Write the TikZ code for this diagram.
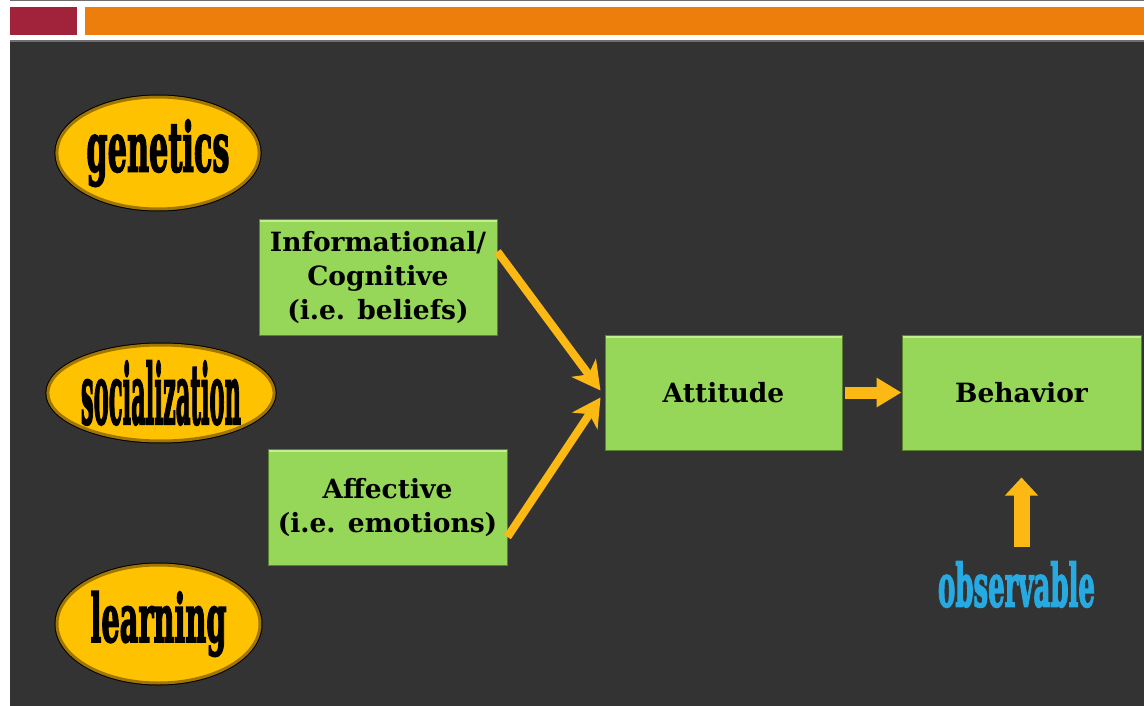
\documentclass[tikz,border=0pt]{standalone}
\usepackage{fontspec}
\usepackage{graphicx}
\usetikzlibrary{arrows.meta,calc,shapes.geometric}
\newfontfamily\boxfont{DejaVu Serif}
\newfontfamily\elfont{DejaVu Serif}[BoldFeatures={FakeBold=3}]
\definecolor{bgdark}{RGB}{51,51,51}
\definecolor{topgrey}{RGB}{110,110,110}
\definecolor{barred}{RGB}{161,35,59}
\definecolor{barorange}{RGB}{238,126,12}
\definecolor{boxgreen}{RGB}{150,214,88}
\definecolor{boxlight}{RGB}{196,238,146}
\definecolor{boxedge}{RGB}{90,130,45}
\definecolor{ellgold}{RGB}{255,194,0}
\definecolor{ellrim}{RGB}{160,118,0}
\definecolor{arrowgold}{RGB}{253,185,19}
\definecolor{obsblue}{RGB}{39,170,225}
\tikzset{
  greenbox/.style={rectangle, fill=boxgreen, draw=boxedge, line width=1pt,
    inner sep=0pt, align=center, text=black,
    font=\boxfont\bfseries\fontsize{26.5}{34}\selectfont,
    path picture={\fill[boxlight] (path picture bounding box.north west)
      rectangle ([yshift=-3pt]path picture bounding box.north east);}},
  ell/.style={ellipse, fill=ellgold, draw=ellrim, line width=3pt, inner sep=0pt,
    preaction={draw=black, line width=5pt}},
  diagarrow/.style={draw=arrowgold, line width=8pt,
    -{Stealth[length=28pt,width=30pt,inset=8pt]}},
  flatarrow/.style={draw=arrowgold, line width=12pt,
    -{Triangle[length=25pt,width=28pt]}},
  uparrow/.style={draw=arrowgold, line width=16pt,
    -{Triangle[length=18pt,width=32pt]}}
}
\begin{document}
\begin{tikzpicture}[x=1pt,y=-1pt]
\useasboundingbox (0,0) rectangle (1144,706);
\fill[white] (0,0) rectangle (1144,706);
\fill[topgrey] (10,0) rectangle (1144,1.5);
\fill[barred] (10,7) rectangle (77,35);
\fill[barorange] (85,7) rectangle (1144,35);
\fill[topgrey] (10,40) rectangle (1144,42);
\fill[bgdark] (10,42) rectangle (1144,706);

% ellipses
\node[ell, minimum width=200pt, minimum height=112pt] (gen) at (158,153)
  {\resizebox*{143pt}{67pt}{\elfont\bfseries genetics}};
\node[ell, minimum width=206pt, minimum height=96pt] (soc) at (161,393)
  {\resizebox*{160pt}{64pt}{\elfont\bfseries socialization}};
\node[ell, minimum width=203pt, minimum height=118pt] (lea) at (158.5,624)
  {\resizebox*{136pt}{65pt}{\elfont\bfseries learning}};

% boxes
\node[greenbox, minimum width=238pt, minimum height=116pt] (info) at (378,277)
  {Informational/\\Cognitive\\(i.e. beliefs)};
\node[greenbox, minimum width=239pt, minimum height=116pt] (aff) at (387.5,507)
  {Affective\\(i.e. emotions)};
\node[greenbox, minimum width=237pt, minimum height=115pt] (att) at (723.5,392.5)
  {Attitude};
\node[greenbox, minimum width=239pt, minimum height=115pt] (beh) at (1021.5,392.5)
  {Behavior};

% observable
\node[inner sep=0pt, text=obsblue] (obs) at (1016.5,584.5)
  {\resizebox{157pt}{45pt}{\elfont\bfseries observable}};

% arrows
\draw[diagarrow] (info.12) -- ($(att.west)+(-4,-2)$);
\draw[diagarrow] (aff.-14) -- ($(att.west)+(-4,5)$);
\draw[flatarrow, shorten <=2pt] (att.east) -- (beh.west);
\draw[uparrow, shorten <=14pt, shorten >=27pt] (obs.north -| beh.south) -- (beh.south);
\end{tikzpicture}
\end{document}
